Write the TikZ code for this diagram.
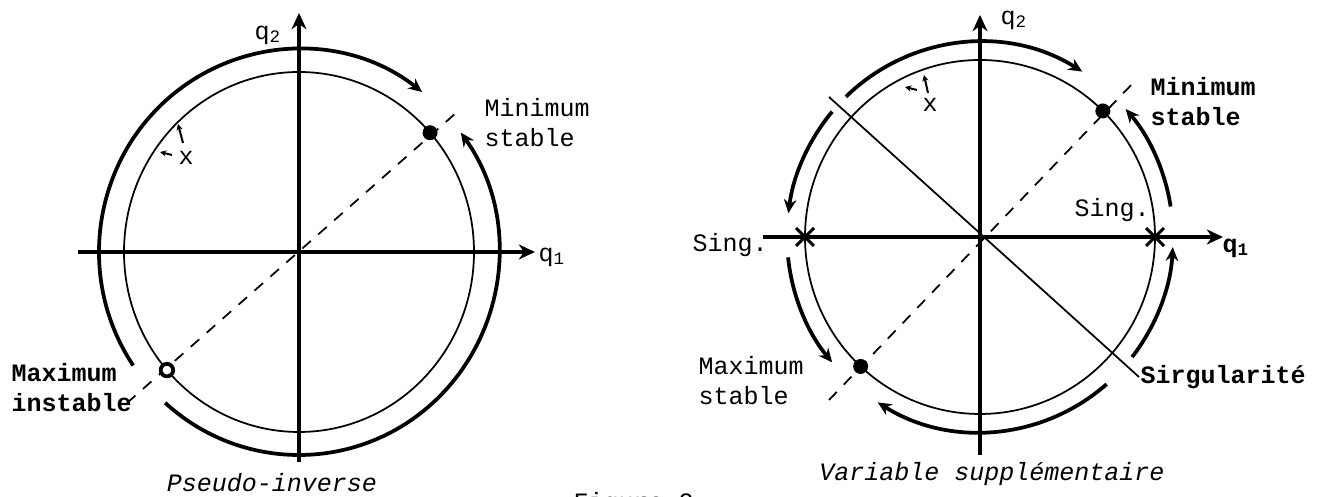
\documentclass[tikz,border=0pt]{standalone}
\usepackage{fontspec}
\setmainfont{Liberation Mono}
\usepackage{tikz}
\usetikzlibrary{arrows.meta, positioning, shapes.misc}

\begin{document}
\begin{tikzpicture}[
      x=1pt, y=1pt, scale=0.4, >=Stealth,
      axis/.style={line width=1.8pt, -{Stealth[length=6.5pt, width=6pt]}},
      orbit/.style={line width=0.7pt},
      flow/.style={line width=1.5pt, -{Stealth[length=5.5pt, width=5pt]}},
      diag/.style={line width=0.7pt, dash pattern=on 4.5pt off 4pt},
      dot/.style={circle, fill, inner sep=0pt, minimum size=6pt},
      odot/.style={circle, draw, line width=1.5pt, fill=white, inner sep=0pt, minimum size=5pt},
      singx/.style={cross out, draw, line width=1.2pt, inner sep=0pt, minimum size=6pt},
      vec/.style={line width=0.8pt, -{Stealth[length=2.5pt, width=2.5pt]}},
      lbl/.style={inner sep=0pt, align=left, font=\fontsize{10}{12}\selectfont},
      lblb/.style={lbl, font=\fontsize{10}{12}\selectfont\bfseries},
      capt/.style={inner sep=0pt, font=\fontsize{10}{12}\selectfont\itshape}
    ]
    \useasboundingbox (0,0) rectangle (1319,497);

    % Pseudo-inverse
    \begin{scope}[shift={(299,245)}]
      \coordinate (lW) at (-221,0);
      \coordinate (lE) at (236,0);
      \coordinate (lS) at (0,-210);
      \coordinate (lN) at (0,239);
      \coordinate (lA) at (-172,-151);
      \coordinate (lB) at (157,139);

      \draw[orbit] (0,0) ellipse [x radius=175, y radius=180];
      \draw[diag] (lA) -- (lB);
      \draw[flow] (214:200 and 203) arc[start angle=214, end angle=52, x radius=200, y radius=203];
      \draw[flow] (228:200 and 203) arc[start angle=228, end angle=396, x radius=200, y radius=203];
      \draw[axis] (lW) -- (lE);
      \draw[axis] (lS) -- (lN);

      \node[dot] (lMin) at (41.5:175 and 180) {};
      \node[odot] (lMax) at (221:175 and 180) {};

      \node[lbl] (lq2) at (-31,217) {q\textsubscript{2}};
      \node[lbl] (lq1) at (253,-5) {q\textsubscript{1}};
      \node[lbl, anchor=west] (lMinLbl) at (185,129) {Minimum\\stable};
      \node[lblb, anchor=west] (lMaxLbl) at (-288,-136) {Maximum\\instable};
      \node[lbl] (lx) at (-113,94) {x};
      \draw[vec] (-116,109) -- (-121,128);
      \draw[vec] (-127,97) -- (-139,100);
    \end{scope}

    % Variable supplementaire
    \begin{scope}[shift={(980,260)}]
      \coordinate (rW) at (-217,0);
      \coordinate (rE) at (243,0);
      \coordinate (rS) at (0,-218);
      \coordinate (rN) at (0,222);
      \coordinate (rA) at (-151,-163);
      \coordinate (rB) at (155,156);
      \coordinate (rC) at (-151,140);
      \coordinate (rD) at (159,-140);

      \draw[orbit] (0,0) ellipse [x radius=175, y radius=177];
      \draw[orbit] (rC) -- (rD);
      \draw[diag] (rA) -- (rB);
      \draw[flow] (134:193 and 195) arc[start angle=134, end angle=58, x radius=193, y radius=195];
      \draw[flow] (140:193 and 195) arc[start angle=140, end angle=173, x radius=193, y radius=195];
      \draw[flow] (186:193 and 195) arc[start angle=186, end angle=220, x radius=193, y radius=195];
      \draw[flow] (311:193 and 195) arc[start angle=311, end angle=238, x radius=193, y radius=195];
      \draw[flow] (-38:193 and 195) arc[start angle=-38, end angle=-3, x radius=193, y radius=195];
      \draw[flow] (9:193 and 195) arc[start angle=9, end angle=41, x radius=193, y radius=195];
      \draw[axis] (rW) -- (rE);
      \draw[axis] (rS) -- (rN);

      \node[dot] (rMin) at (45.4:175 and 177) {};
      \node[dot] (rMax) at (227:175 and 177) {};
      \node[singx] (rSingW) at (180:175 and 177) {};
      \node[singx] (rSingE) at (0:175 and 177) {};

      \node[lbl] (rq2) at (34,217) {q\textsubscript{2}};
      \node[lblb] (rq1) at (256,-11) {q\textsubscript{1}};
      \node[lblb, anchor=west] (rMinLbl) at (170,135) {Minimum\\stable};
      \node[lbl] (rSingELbl) at (132,27) {Sing.};
      \node[lbl] (rSingWLbl) at (-250,-8) {Sing.};
      \node[lbl, anchor=west] (rMaxLbl) at (-282,-144) {Maximum\\stable};
      \node[lblb, anchor=west] (rSirLbl) at (160,-140) {Sirgularité};
      \node[lbl] (rx) at (-50,132) {x};
      \draw[vec] (-52,144) -- (-56,162);
      \draw[vec] (-63,147) -- (-75,150);
    \end{scope}

    % Captions
    \node[capt] (capL) at (272,14) {Pseudo-inverse};
    \node[capt] (capR) at (992,23) {Variable supplémentaire};
    \node[lbl, anchor=base west] (fig) at (573,-14) {Figure 2};
  \end{tikzpicture}
\end{document}
